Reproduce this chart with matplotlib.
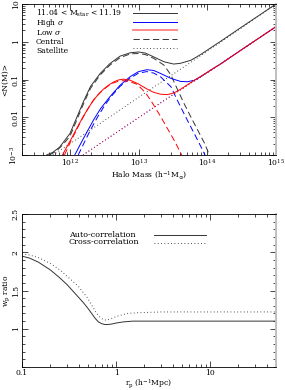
import numpy as np
import matplotlib as mpl
mpl.use('Agg')
import matplotlib.pyplot as plt
from matplotlib.lines import Line2D
from matplotlib.ticker import LogLocator, NullFormatter, MultipleLocator, FixedLocator

# ---- top panel: HOD curves, log10(M) and log10(<N>)
lm_all = [11.66, 11.75, 11.85, 12.0, 12.1, 12.2, 12.3, 12.44, 12.58, 12.73, 12.88, 13.0,
          13.1, 13.22, 13.37, 13.51, 13.61, 13.76, 13.91, 14.05, 14.2, 14.5, 15.0]
ln_all = [-3.0, -2.93, -2.79, -2.43, -2.0, -1.57, -1.18, -0.84, -0.58, -0.38, -0.29, -0.27,
          -0.30, -0.40, -0.53, -0.59, -0.57, -0.49, -0.33, -0.16, 0.02, 0.39, 1.0]
lm_all_cen = [11.70, 11.80, 11.90, 12.0, 12.1, 12.2, 12.3, 12.44, 12.58, 12.73, 12.88, 13.0,
              13.1, 13.22, 13.37, 13.47, 13.57, 13.66, 13.76, 13.86, 13.96, 14.03]
ln_all_cen = [-3.0, -2.90, -2.72, -2.50, -2.07, -1.63, -1.23, -0.88, -0.62, -0.42, -0.32,
              -0.31, -0.34, -0.44, -0.62, -0.88, -1.28, -1.63, -1.99, -2.34, -2.69, -3.0]
lm_all_sat = [11.75, 12.0, 12.5, 13.0, 13.5, 14.0, 14.5, 15.0]
ln_all_sat = [-3.0, -2.70, -2.09, -1.47, -0.86, -0.25, 0.37, 1.0]

lm_hi = [12.07, 12.15, 12.25, 12.35, 12.45, 12.58, 12.73, 12.88, 13.0, 13.12, 13.22, 13.32,
         13.47, 13.61, 13.71, 13.81, 13.91, 14.05, 14.2, 14.5, 15.0]
ln_hi = [-3.0, -2.72, -2.38, -2.05, -1.76, -1.46, -1.15, -0.92, -0.79, -0.74, -0.76, -0.84,
         -0.97, -1.05, -1.06, -1.02, -0.92, -0.75, -0.58, -0.21, 0.40]
lm_hi_cen = [12.12, 12.2, 12.3, 12.4, 12.5, 12.6, 12.73, 12.88, 13.0, 13.12, 13.22, 13.32,
             13.47, 13.54, 13.61, 13.71, 13.81, 13.91, 13.98]
ln_hi_cen = [-3.0, -2.70, -2.33, -2.00, -1.70, -1.45, -1.18, -0.96, -0.83, -0.79, -0.83,
             -0.93, -1.19, -1.46, -1.72, -2.08, -2.43, -2.79, -3.05]

lm_lo = [11.89, 11.95, 12.04, 12.12, 12.19, 12.27, 12.34, 12.42, 12.49, 12.57, 12.64, 12.71,
         12.78, 12.88, 13.0, 13.12, 13.22, 13.32, 13.42, 13.52, 13.61, 13.76, 13.91, 14.05,
         14.2, 14.5, 15.0]
ln_lo = [-3.0, -2.80, -2.50, -2.22, -1.99, -1.75, -1.55, -1.38, -1.25, -1.14, -1.06, -1.01,
         -0.99, -1.02, -1.12, -1.25, -1.34, -1.39, -1.40, -1.35, -1.26, -1.08, -0.91, -0.75,
         -0.58, -0.21, 0.40]
lm_lo_cen = [11.92, 12.0, 12.08, 12.15, 12.22, 12.3, 12.38, 12.46, 12.54, 12.62, 12.7,
             12.78, 12.88, 12.98, 13.1, 13.2, 13.32, 13.42, 13.52, 13.6, 13.64]
ln_lo_cen = [-3.0, -2.68, -2.39, -2.14, -1.90, -1.66, -1.46, -1.31, -1.19, -1.10, -1.05,
             -1.03, -1.06, -1.13, -1.35, -1.62, -1.98, -2.30, -2.62, -2.90, -3.05]
lm_sat = [12.19, 12.5, 13.0, 13.5, 14.0, 14.5, 15.0]
ln_sat = [-3.0, -2.62, -2.01, -1.40, -0.82, -0.21, 0.40]

top_labels = ['11.04 < M$_{\\rm star}$ < 11.19', 'High $\\sigma$', 'Low $\\sigma$',
              'Central', 'Satellite']

# ---- bottom panel: w_p ratio
rp_auto = [0.10, 0.12, 0.15, 0.20, 0.25, 0.30, 0.40, 0.45, 0.50, 0.55, 0.60, 0.65, 0.70,
           0.75, 0.80, 0.90, 1.0, 1.2, 1.5, 2.0, 5.0, 50.0]
w_auto = [1.95, 1.925, 1.87, 1.77, 1.67, 1.58, 1.41, 1.34, 1.27, 1.20, 1.135, 1.09, 1.068,
          1.057, 1.055, 1.062, 1.075, 1.09, 1.10, 1.10, 1.10, 1.10]
rp_cross = [0.10, 0.12, 0.15, 0.20, 0.25, 0.30, 0.40, 0.45, 0.50, 0.55, 0.60, 0.65, 0.70,
            0.75, 0.80, 0.90, 1.0, 1.3, 1.7, 3.0, 50.0]
w_cross = [1.98, 1.965, 1.93, 1.855, 1.775, 1.69, 1.55, 1.47, 1.40, 1.31, 1.23, 1.17, 1.135,
           1.115, 1.115, 1.135, 1.16, 1.20, 1.21, 1.22, 1.22]
bot_labels = ['Auto-correlation', 'Cross-correlation']


def pow10(a):
    return 10 ** np.asarray(a)


mpl.rcParams['font.family'] = 'DejaVu Serif'
mpl.rcParams['mathtext.fontset'] = 'dejavuserif'
mpl.rcParams['font.size'] = 5.5
mpl.rcParams['lines.scale_dashes'] = False

fig = plt.figure(figsize=(2.85, 3.9), dpi=100)
ax1 = fig.add_axes([0.0772, 0.6026, 0.891, 0.387])
ax2 = fig.add_axes([0.0772, 0.059, 0.891, 0.392])

kc = '0.2'
lw = 0.7
dash = (4.5, 2.5)
dot = (0.6, 1.8)

ax1.plot(pow10(lm_all), pow10(ln_all), color=kc, lw=lw)
ax1.plot(pow10(lm_all_cen), pow10(ln_all_cen), color=kc, lw=lw, dashes=dash)
ax1.plot(pow10(lm_all_sat), pow10(ln_all_sat), color=kc, lw=lw, dashes=dot)
ax1.plot(pow10(lm_hi), pow10(ln_hi), color='blue', lw=lw)
ax1.plot(pow10(lm_hi_cen), pow10(ln_hi_cen), color='blue', lw=lw, dashes=dash)
ax1.plot(pow10(lm_sat), pow10(ln_sat), color='blue', lw=lw, dashes=dot)
ax1.plot(pow10(lm_lo), pow10(ln_lo), color='red', lw=lw)
ax1.plot(pow10(lm_lo_cen), pow10(ln_lo_cen), color='red', lw=lw, dashes=dash)
ax1.plot(pow10(lm_sat), pow10(ln_sat), color='red', lw=lw, dashes=dot)

ax1.set_xscale('log')
ax1.set_yscale('log')
ax1.set_xlim(2e11, 1e15)
ax1.set_ylim(1e-3, 10)
ax1.set_yticks([1e-3, 0.01, 0.1, 1, 10])
ax1.set_yticklabels(['10$^{-3}$', '0.01', '0.1', '1', '10'])
ax1.yaxis.set_minor_locator(LogLocator(base=10, subs=np.arange(2, 10)))
ax1.yaxis.set_minor_formatter(NullFormatter())
ax1.xaxis.set_minor_locator(LogLocator(base=10, subs=np.arange(2, 10)))
ax1.xaxis.set_minor_formatter(NullFormatter())
ax1.set_xlabel('Halo Mass (h$^{-1}$M$_{\\odot}$)', labelpad=1)
ax1.set_ylabel('<N(M)>', labelpad=0)

handles = [Line2D([], [], color=kc, lw=lw), Line2D([], [], color='blue', lw=lw),
           Line2D([], [], color='#ff8080', lw=1.3), Line2D([], [], color=kc, lw=lw, dashes=dash),
           Line2D([], [], color=kc, lw=lw, dashes=dot)]
ax1.legend(handles, [''] * 5, loc='upper left', bbox_to_anchor=(0.437, 0.965),
           frameon=False, handlelength=5.7, handletextpad=0, labelspacing=0.12,
           borderpad=0, borderaxespad=0, fontsize=5.5)
row_y = [0.940, 0.873, 0.812, 0.751, 0.690]
for lab, y in zip(top_labels, row_y):
    ax1.text(0.055, y, lab, transform=ax1.transAxes, va='center', fontsize=5.5)

ax2.plot(rp_auto, w_auto, color=kc, lw=lw)
ax2.plot(rp_cross, w_cross, color=kc, lw=lw, dashes=dot)
ax2.set_xscale('log')
ax2.set_xlim(0.1, 50)
ax2.set_ylim(0.5, 2.5)
ax2.set_xticks([0.1, 1, 10])
ax2.set_xticklabels(['0.1', '1', '10'])
ax2.xaxis.set_minor_locator(LogLocator(base=10, subs=np.arange(2, 10)))
ax2.xaxis.set_minor_formatter(NullFormatter())
ax2.yaxis.set_major_locator(FixedLocator([1, 1.5, 2, 2.5]))
ax2.set_yticklabels(['1', '1.5', '2', '2.5'])
ax2.yaxis.set_minor_locator(MultipleLocator(0.1))
ax2.set_xlabel('r$_{\\rm p}$ (h$^{-1}$Mpc)', labelpad=0)
ax2.set_ylabel('w$_{\\rm p}$ ratio', labelpad=0)

bh = [Line2D([], [], color=kc, lw=lw), Line2D([], [], color=kc, lw=lw, dashes=dot)]
ax2.legend(bh, [''] * 2, loc='upper left', bbox_to_anchor=(0.52, 0.885),
           frameon=False, handlelength=7.5, handletextpad=0, labelspacing=0.0,
           borderpad=0, borderaxespad=0, fontsize=5)
for i, lab in enumerate(bot_labels):
    ax2.text(0.185, 0.863 - i * 0.044, lab, transform=ax2.transAxes, va='center',
             fontsize=5.8)

for ax in (ax1, ax2):
    ax.tick_params(which='both', direction='in', top=True, right=True, width=0.5,
                   labelsize=5.5, pad=1.5)
    ax.tick_params(which='major', length=4)
    ax.tick_params(which='minor', length=2)
    ax.tick_params(axis='y', labelrotation=90)
    for t in ax.get_yticklabels():
        t.set_va('center')
    for s in ax.spines.values():
        s.set_linewidth(0.6)
    ax.spines['right'].set_color('0.75')
    ax.spines['right'].set_linewidth(1.4)

fig.savefig('out.png', dpi=100)
